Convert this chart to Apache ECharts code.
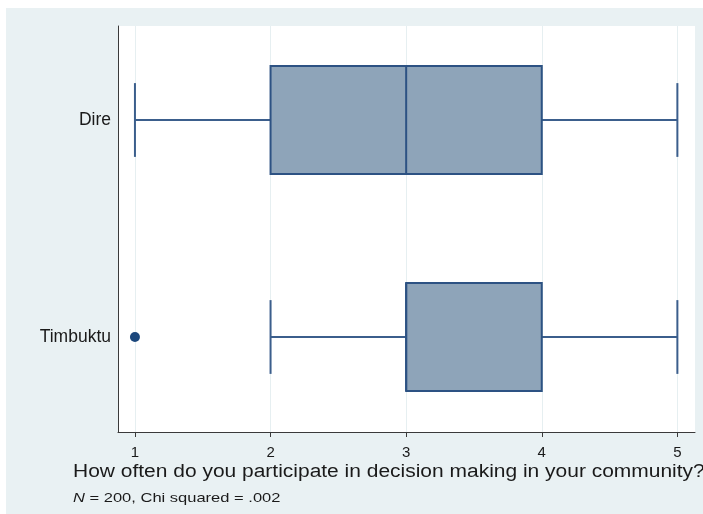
<!DOCTYPE html>
<html>
<head>
<meta charset="utf-8">
<script src="https://cdn.jsdelivr.net/npm/echarts@6/dist/echarts.min.js"></script>
<style>
  html, body { margin: 0; padding: 0; background: #ffffff; }
  #wrap { position: absolute; left: 0; top: 0; width: 703px; height: 514px; overflow: hidden; background: #ffffff; }
  #chart { position: absolute; left: 6px; top: 8px; width: 697px; height: 506px; }
</style>
</head>
<body>
<div id="wrap"><div id="chart"></div></div>
<script>
// Groups, listed bottom to top on the vertical axis
const categories = ['Timbuktu', 'Dire'];

// Five-number summaries per group: [lower whisker, Q1, median, Q3, upper whisker]
const lowerWhisker = [2, 1];
const quartile1    = [3, 2];
const median       = [3, 3];
const quartile3    = [4, 4];
const upperWhisker = [5, 5];

// Outside values: [value, group index]
const outliers = [[1, 0]];

// Horizontal axis ticks
const xTicks = [1, 2, 3, 4, 5];

const axisTitle = 'How often do you participate in decision making in your community?';
const noteText = '{i|N} = 200, Chi squared = .002';

const FONT = '"Liberation Sans", Arial, Helvetica, sans-serif';
const BOX_FILL = '#8ea4b9';
const BOX_LINE = '#2d5283';
const WHISKER = '#3b5e8c';
const TEXT = '#1a1a1a';

const boxData = categories.map((c, i) => [i, lowerWhisker[i], quartile1[i], median[i], quartile3[i], upperWhisker[i]]);

const chart = echarts.init(document.getElementById('chart'), null, { renderer: 'canvas' });

chart.setOption({
  backgroundColor: '#e9f1f3',
  animation: false,
  graphic: [
    {
      // x-axis title, set in a slightly wide face
      type: 'text', x: 67, y: 464.5, scaleX: 1.165,
      style: {
        text: axisTitle, fontFamily: FONT, fontSize: 18, fill: TEXT,
        align: 'left', verticalAlign: 'middle'
      }
    },
    {
      // sample note
      type: 'text', x: 67, y: 490, scaleX: 1.27,
      style: {
        text: noteText, fontFamily: FONT, fontSize: 13, fill: TEXT,
        align: 'left', verticalAlign: 'middle',
        rich: { i: { fontFamily: FONT, fontSize: 13, fontStyle: 'italic', fill: TEXT } }
      }
    }
  ],
  grid: [
    // plot region with axes and grid lines
    { left: 112, right: 8, top: 18, bottom: 82, show: true, backgroundColor: '#ffffff', borderWidth: 0 },
    // layout band for the boxes
    { left: 112, right: 8, top: 3.5, bottom: 68.5 }
  ],
  xAxis: [
    {
      gridIndex: 0, type: 'value', min: 0.875, max: 5.13,
      axisLine: { show: true, lineStyle: { color: '#3a3a3a', width: 1 } },
      axisTick: { show: true, length: 5, customValues: xTicks, lineStyle: { color: '#3a3a3a', width: 1 } },
      axisLabel: { customValues: xTicks, margin: 13, fontFamily: FONT, fontSize: 15, color: TEXT },
      splitLine: { show: true, lineStyle: { color: '#e6eff1', width: 1 } }
    },
    {
      gridIndex: 1, type: 'value', min: 0.875, max: 5.13, show: false
    }
  ],
  yAxis: [
    {
      gridIndex: 0, type: 'value', min: 0, max: 1,
      axisLine: { show: true, lineStyle: { color: '#3a3a3a', width: 1 } },
      axisTick: { show: false }, axisLabel: { show: false }, splitLine: { show: false }
    },
    {
      gridIndex: 1, type: 'category', data: categories,
      axisLine: { show: false }, axisTick: { show: false }, splitLine: { show: false },
      axisLabel: { margin: 7, fontFamily: FONT, fontSize: 17.5, color: TEXT }
    }
  ],
  series: [
    {
      type: 'custom',
      xAxisIndex: 1, yAxisIndex: 1,
      data: boxData,
      encode: { x: [1, 2, 3, 4, 5], y: 0 },
      renderItem: function (params, api) {
        const cat = api.value(0);
        const band = api.size([0, 1])[1];
        const boxH = band * 0.498;
        const capH = band * 0.34;
        const cy = api.coord([api.value(3), cat])[1];
        const px = function (v) { return api.coord([v, cat])[0]; };
        const xLo = px(api.value(1)), xQ1 = px(api.value(2)), xMed = px(api.value(3)),
              xQ3 = px(api.value(4)), xHi = px(api.value(5));
        const wStyle = { stroke: WHISKER, lineWidth: 2, fill: null };
        return {
          type: 'group',
          children: [
            { type: 'line', shape: { x1: xLo, y1: cy, x2: xQ1, y2: cy }, style: wStyle },
            { type: 'line', shape: { x1: xQ3, y1: cy, x2: xHi, y2: cy }, style: wStyle },
            { type: 'line', shape: { x1: xLo, y1: cy - capH / 2, x2: xLo, y2: cy + capH / 2 }, style: wStyle },
            { type: 'line', shape: { x1: xHi, y1: cy - capH / 2, x2: xHi, y2: cy + capH / 2 }, style: wStyle },
            {
              type: 'rect',
              shape: { x: xQ1, y: cy - boxH / 2, width: xQ3 - xQ1, height: boxH },
              style: { fill: BOX_FILL, stroke: BOX_LINE, lineWidth: 2 }
            },
            { type: 'line', shape: { x1: xMed, y1: cy - boxH / 2, x2: xMed, y2: cy + boxH / 2 },
              style: { stroke: BOX_LINE, lineWidth: 2 } }
          ]
        };
      }
    },
    {
      type: 'scatter',
      xAxisIndex: 1, yAxisIndex: 1,
      data: outliers,
      symbol: 'circle', symbolSize: 10,
      itemStyle: { color: '#1b477c', opacity: 1 }
    }
  ]
});
</script>
</body>
</html>
